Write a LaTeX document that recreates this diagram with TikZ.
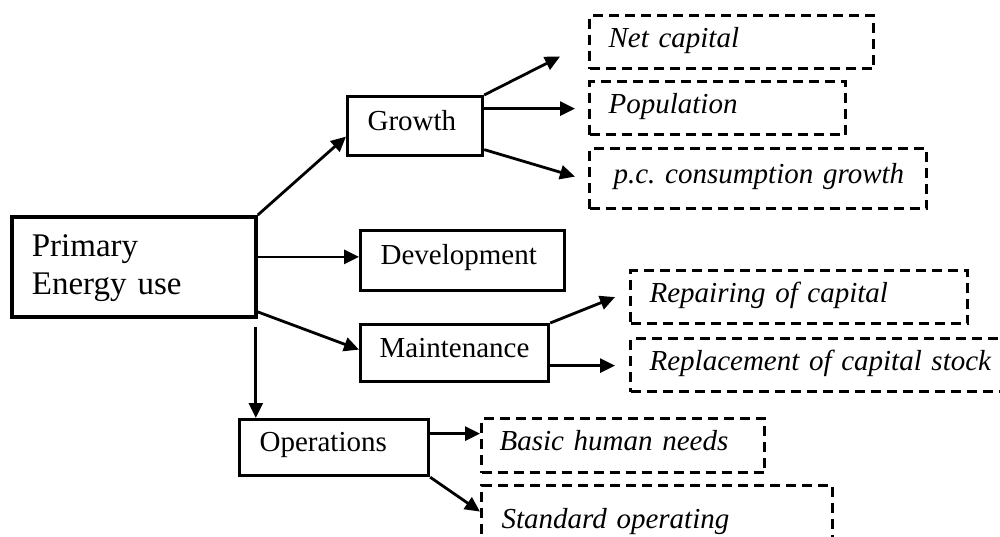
\documentclass[tikz,border=0pt]{standalone}
\usepackage{fontspec}
\setmainfont{Liberation Serif}
\frenchspacing
\usetikzlibrary{arrows.meta}
\begin{document}
\begin{tikzpicture}[x=1pt,y=1pt,
  solidbox/.style={draw, line width=3.2pt, inner ysep=0pt, anchor=north west, align=left,
    font=\fontsize{29}{34}\selectfont, text height=0.86em, text depth=0em},
  dashbox/.style={draw, line width=3.2pt, dash pattern=on 10pt off 6pt, inner ysep=0pt,
    anchor=north west, align=left, font=\fontsize{29}{34}\selectfont\itshape,
    text height=1em, text depth=0em},
  conn/.style={line width=2.8pt, -{Triangle[length=15pt,width=14pt]}}]
\useasboundingbox (0,0) rectangle (1000,-536);
\clip (0,0) rectangle (1000,-536);

% main box
\node[draw, line width=3.8pt, anchor=north west, inner xsep=20pt, inner ysep=0pt,
  text width=204pt, minimum height=100pt, align=left, text height=25pt, text depth=45pt,
  font=\fontsize{33}{38}\selectfont] (prim) at (10,-215) {Primary\\Energy use};

% second level
\node[solidbox, inner xsep=20pt, text width=95pt, minimum height=59pt] (grow) at (346,-95) {\mbox{Growth}};
\node[solidbox, inner xsep=20pt, text width=164pt, minimum height=60pt] (dev) at (359,-229) {\mbox{Development}};
\node[solidbox, inner xsep=19pt, text width=150pt, minimum height=57pt] (maint) at (359,-323) {\mbox{Maintenance}};
\node[solidbox, inner xsep=20pt, text width=149pt, minimum height=56pt] (ops) at (238,-418) {\mbox{Operations}};

% third level
\node[dashbox, inner xsep=19pt, text width=246pt, minimum height=53pt] (netc) at (588,-14) {\mbox{Net capital}};
\node[dashbox, inner xsep=19pt, text width=218pt, minimum height=53pt] (pop) at (588,-80) {\mbox{Population}};
\node[dashbox, inner xsep=24pt, text width=289pt, minimum height=60pt] (pc) at (588,-147) {\mbox{p.c. consumption growth}};
\node[dashbox, inner xsep=19pt, text width=299pt, minimum height=53pt] (rep) at (629,-269) {\mbox{Repairing of capital}};
\node[dashbox, inner xsep=19pt, text width=343pt, minimum height=53pt] (repl) at (629,-337) {\mbox{Replacement of capital stock}};
\node[dashbox, inner xsep=18pt, text width=247pt, minimum height=54pt] (basic) at (480,-417) {\mbox{Basic human needs}};
\node[dashbox, inner xsep=20pt, text width=311pt, minimum height=76pt] (std) at (480,-484) {\mbox{Standard operating}};

% connectors from primary
\draw[conn] (prim.north east) -- ([yshift=-10.5pt]grow.west);
\coordinate (pd) at ([yshift=10pt]prim.east);
\draw[conn] (pd) -- (pd -| dev.west);
\draw[conn] ([yshift=-45pt]prim.east) -- ([yshift=3.5pt]maint.west);
\coordinate (po) at ([xshift=-2pt,yshift=-8pt]prim.south east);
\draw[conn] (po) -- (po |- ops.north);

% connectors from growth
\draw[conn] (grow.north east) -- ([xshift=-28pt,yshift=-14.5pt]netc.west);
\coordinate (gp) at ([yshift=17.5pt]grow.east);
\coordinate (pe) at ([xshift=-13pt]pop.west);
\draw[conn] (gp) -- (gp -| pe);
\draw[conn] ([yshift=-23.5pt]grow.east) -- ([xshift=-13pt,yshift=2pt]pc.west);

% connectors from maintenance
\draw[conn] (maint.north east) -- ([xshift=-14pt]rep.west);
\coordinate (mr) at ([yshift=-12.5pt]maint.east);
\coordinate (re) at ([xshift=-14pt]repl.west);
\draw[conn] (mr) -- (mr -| re);

% connectors from operations
\coordinate (ob) at ([yshift=14pt]ops.east);
\draw[conn] (ob) -- (ob -| basic.west);
\draw[conn] (ops.south east) -- ([yshift=12pt]std.west);
\end{tikzpicture}
\end{document}
